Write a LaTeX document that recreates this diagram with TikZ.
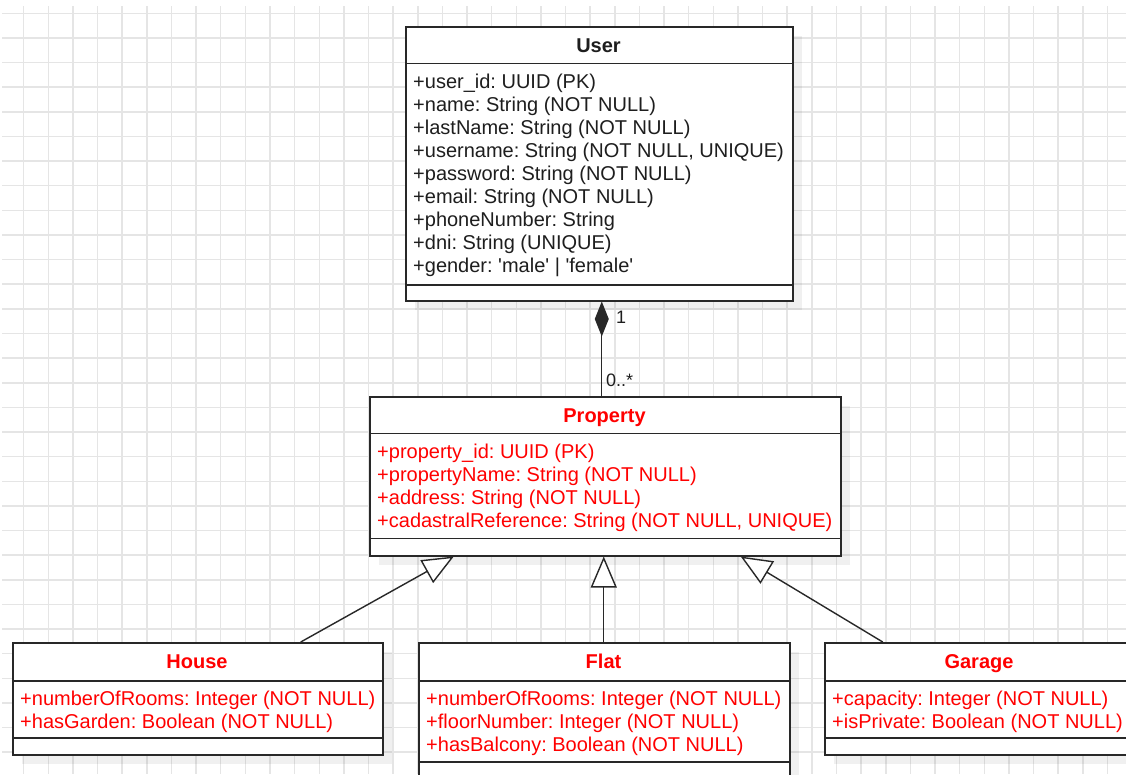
\documentclass[tikz,border=0pt]{standalone}
\usepackage{fontspec}
\setmainfont{Liberation Sans}
\usetikzlibrary{arrows.meta}
\definecolor{gridcol}{RGB}{229,229,229}
\definecolor{edgecol}{RGB}{40,40,40}
\definecolor{txtcol}{RGB}{30,30,30}
\definecolor{redtxt}{RGB}{255,0,0}
\frenchspacing
\begin{document}
\begin{tikzpicture}[x=1pt,y=-1pt,
  gridline/.style={draw=gridcol,line width=1.5pt},
  classbox/.style={draw=edgecol,line width=1.5pt,fill=white,inner sep=0pt,anchor=north west},
  boxshadow/.style={fill=black,fill opacity=0.06},
  divider/.style={draw=edgecol,line width=1.5pt},
  titletext/.style={font=\fontsize{20}{23}\selectfont\bfseries,anchor=base,inner sep=0pt},
  attrtext/.style={font=\fontsize{20}{23}\selectfont,anchor=base west,inner sep=0pt},
  conn/.style={draw=edgecol,line width=1.4pt},
  mult/.style={font=\fontsize{18}{20}\selectfont,text=txtcol,anchor=base west,inner sep=0pt},
  gen/.style={conn,-{Triangle[length=31pt,width=26pt,fill=white]}},
  comp/.style={conn,-{Diamond[length=35pt,width=14pt,fill=edgecol]}}
]
\useasboundingbox (0,0) rectangle (1126,774);
\fill[white] (0,0) rectangle (1126,774);
\clip (0,0) rectangle (1126,774);

% background grid
\foreach \i in {0,...,44} \draw[gridline] ({23.7+24.63*\i},6) -- ++(0,768);
\foreach \j in {0,...,30} \draw[gridline] (2,{13.3+24.63*\j}) -- ++(1124,0);

% shadows
\fill[boxshadow] (415,36) rectangle ++(387,274);
\fill[boxshadow] (379,406) rectangle ++(471,159);
\fill[boxshadow] (22,652) rectangle ++(370,112);
\fill[boxshadow] (428,652) rectangle ++(371,136);
\fill[boxshadow] (834,652) rectangle ++(310,112);

% class boxes
\node[classbox,minimum width=387pt,minimum height=274pt] (user) at (405,26) {};
\node[classbox,minimum width=471pt,minimum height=159pt] (property) at (369,396) {};
\node[classbox,minimum width=370pt,minimum height=112pt] (house) at (12,642) {};
\node[classbox,minimum width=371pt,minimum height=136pt] (flat) at (418,642) {};
\node[classbox,minimum width=310pt,minimum height=112pt] (garage) at (824,642) {};

% compartment dividers
\draw[divider] (405,63.3) -- (792,63.3);
\draw[divider] (405,285) -- (792,285);
\draw[divider] (369,433.5) -- (840,433.5);
\draw[divider] (369,538.5) -- (840,538.5);
\draw[divider] (12,681) -- (382,681);
\draw[divider] (12,738) -- (382,738);
\draw[divider] (418,681) -- (789,681);
\draw[divider] (418,762) -- (789,762);
\draw[divider] (824,681) -- (1134,681);
\draw[divider] (824,738) -- (1134,738);

% titles
\node[titletext,text=txtcol] (user-title) at (598.5,52) {User};
\node[titletext,text=redtxt] (property-title) at (604.5,422) {Property};
\node[titletext,text=redtxt] (house-title) at (197,668) {House};
\node[titletext,text=redtxt] (flat-title) at (603.5,668) {Flat};
\node[titletext,text=redtxt] (garage-title) at (979,668) {Garage};

% attributes
\node[attrtext,text=txtcol] (user-attrs) at (413,88) {\vtop{%
  \hbox{+user\_id: UUID (PK)}
  \hbox{+name: String (NOT NULL)}
  \hbox{+lastName: String (NOT NULL)}
  \hbox{+username: String (NOT NULL, UNIQUE)}
  \hbox{+password: String (NOT NULL)}
  \hbox{+email: String (NOT NULL)}
  \hbox{+phoneNumber: String}
  \hbox{+dni: String (UNIQUE)}
  \hbox{+gender: \textquotesingle male\textquotesingle\ | \textquotesingle female\textquotesingle}}};
\node[attrtext,text=redtxt] (property-attrs) at (377,458.5) {\vtop{%
  \hbox{+property\_id: UUID (PK)}
  \hbox{+propertyName: String (NOT NULL)}
  \hbox{+address: String (NOT NULL)}
  \hbox{+cadastralReference: String (NOT NULL, UNIQUE)}}};
\node[attrtext,text=redtxt] (house-attrs) at (20,705) {\vtop{%
  \hbox{+numberOfRooms: Integer (NOT NULL)}
  \hbox{+hasGarden: Boolean (NOT NULL)}}};
\node[attrtext,text=redtxt] (flat-attrs) at (426,705) {\vtop{%
  \hbox{+numberOfRooms: Integer (NOT NULL)}
  \hbox{+floorNumber: Integer (NOT NULL)}
  \hbox{+hasBalcony: Boolean (NOT NULL)}}};
\node[attrtext,text=redtxt] (garage-attrs) at (832,705) {\vtop{%
  \hbox{+capacity: Integer (NOT NULL)}
  \hbox{+isPrivate: Boolean (NOT NULL)}}};

% composition User <>-- Property
\draw[comp] ([xshift=-3.5pt]property.north) -- ([xshift=2.5pt]user.south);
\node[mult] (mult-one) at (616,323) {1};
\node[mult] (mult-many) at (606,386) {0..*};

% generalisations
\draw[gen] ([xshift=103pt]house.north) -- ([xshift=-151.5pt]property.south);
\draw[gen] ([xshift=-0.5pt]flat.north) -- ([xshift=-1.5pt]property.south);
\draw[gen] ([xshift=-97pt]garage.north) -- ([xshift=135.5pt]property.south);
\end{tikzpicture}
\end{document}
